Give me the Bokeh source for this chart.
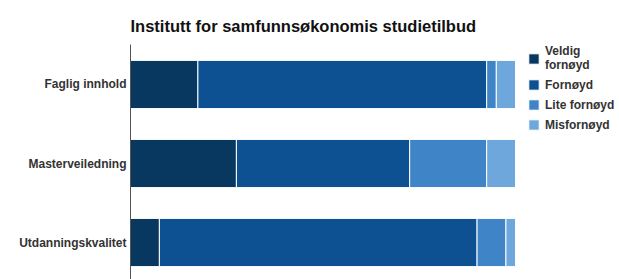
from bokeh.plotting import figure
from bokeh.models import Range1d, FixedTicker, Legend, LegendItem
from bokeh.embed import file_html
from bokeh.resources import INLINE

categories = ["Faglig innhold", "Masterveiledning", "Utdanningskvalitet"]
series_names = ["Veldig\nfornøyd", "Fornøyd", "Lite fornøyd", "Misfornøyd"]
veldig_fornoyd = [17.5, 27.5, 7.5]
fornoyd = [75.0, 45.0, 82.5]
lite_fornoyd = [2.5, 20.0, 7.5]
misfornoyd = [5.0, 7.5, 2.5]
colors = ["#08375f", "#0d5193", "#3f84c6", "#6da7dc"]

n = len(categories)
ypos = [n - 1 - i for i in range(n)]
keys = ["v", "f", "l", "m"]
data = dict(y=ypos, v=veldig_fornoyd, f=fornoyd, l=lite_fornoyd, m=misfornoyd)

p = figure(
    frame_width=397, frame_height=235,
    x_range=Range1d(0, 103.1), y_range=Range1d(-0.468, 2.506),
    output_backend="svg", toolbar_location=None,
    x_axis_location=None,
    min_border_left=130, min_border_top=44, min_border_bottom=0, min_border_right=0,
)
p.title.text = "Institutt for samfunnsøkonomis studietilbud"
p.title.text_font = "Liberation Sans"
p.title.text_font_size = "16.5px"
p.title.text_font_style = "bold"
p.title.text_color = "#111111"
p.title.align = "left"
p.title.standoff = 20

renderers = p.hbar_stack(keys, y="y", height=0.61, color=colors,
                         line_color="white", line_width=1, source=data)

p.outline_line_color = None
p.grid.visible = False
p.background_fill_color = "white"
p.border_fill_color = "white"

ax = p.yaxis[0]
ax.ticker = FixedTicker(ticks=ypos)
ax.major_label_overrides = {y: c for y, c in zip(ypos, categories)}
ax.axis_line_color = "#555555"
ax.major_tick_line_color = None
ax.minor_tick_line_color = None
ax.major_tick_out = 0
ax.major_label_standoff = 4
ax.major_label_text_font = "Liberation Sans"
ax.major_label_text_font_size = "12px"
ax.major_label_text_font_style = "bold"
ax.major_label_text_color = "#333333"

legend = Legend(
    items=[LegendItem(label=nm, renderers=[r]) for nm, r in zip(series_names, renderers)],
    location="top_left", margin=0, padding=2, spacing=5,
    glyph_width=13, glyph_height=13, label_standoff=5, label_height=15,
    label_text_font="Liberation Sans", label_text_font_size="12px",
    label_text_font_style="bold", label_text_color="#333333",
    border_line_color=None, background_fill_alpha=0,
)
p.add_layout(legend, "right")

open("out.html", "w").write(file_html(p, INLINE))
